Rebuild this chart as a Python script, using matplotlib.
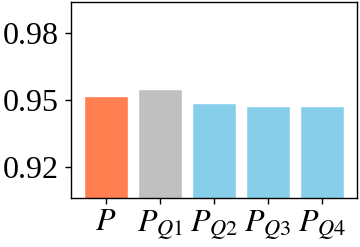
import numpy as np
import matplotlib.pyplot as plt

labels = ['$P$', '$P_{Q1}$', '$P_{Q2}$', '$P_{Q3}$', '$P_{Q4}$']
values = [0.9518, 0.9548, 0.9487, 0.9473, 0.9471]
colors = ['coral', 'silver', 'skyblue', 'skyblue', 'skyblue']
yticks = [0.92, 0.95, 0.98]

plt.rcParams['font.family'] = 'Liberation Serif'
plt.rcParams['mathtext.fontset'] = 'stix'

fig = plt.figure(figsize=(3.6, 2.47), dpi=100)
ax = fig.add_axes([71/360, 1 - 198/247, (357 - 71)/360, (198 - 2)/247])

x = np.arange(len(labels))
ax.bar(x, values, width=0.8, color=colors, edgecolor='white', linewidth=1)

ax.set_xticks(x)
ax.set_xticklabels(labels)
ax.set_yticks(yticks)
ax.set_yticklabels(['%.2f' % v for v in yticks])
ax.set_xlim(-0.65, 4.65)
ax.set_ylim(0.906, 0.994)
ax.tick_params(labelsize=23, length=4, width=1)
ax.tick_params(axis='y', pad=5)
for s in ax.spines.values():
    s.set_linewidth(1)

fig.savefig('out.png', dpi=100)
